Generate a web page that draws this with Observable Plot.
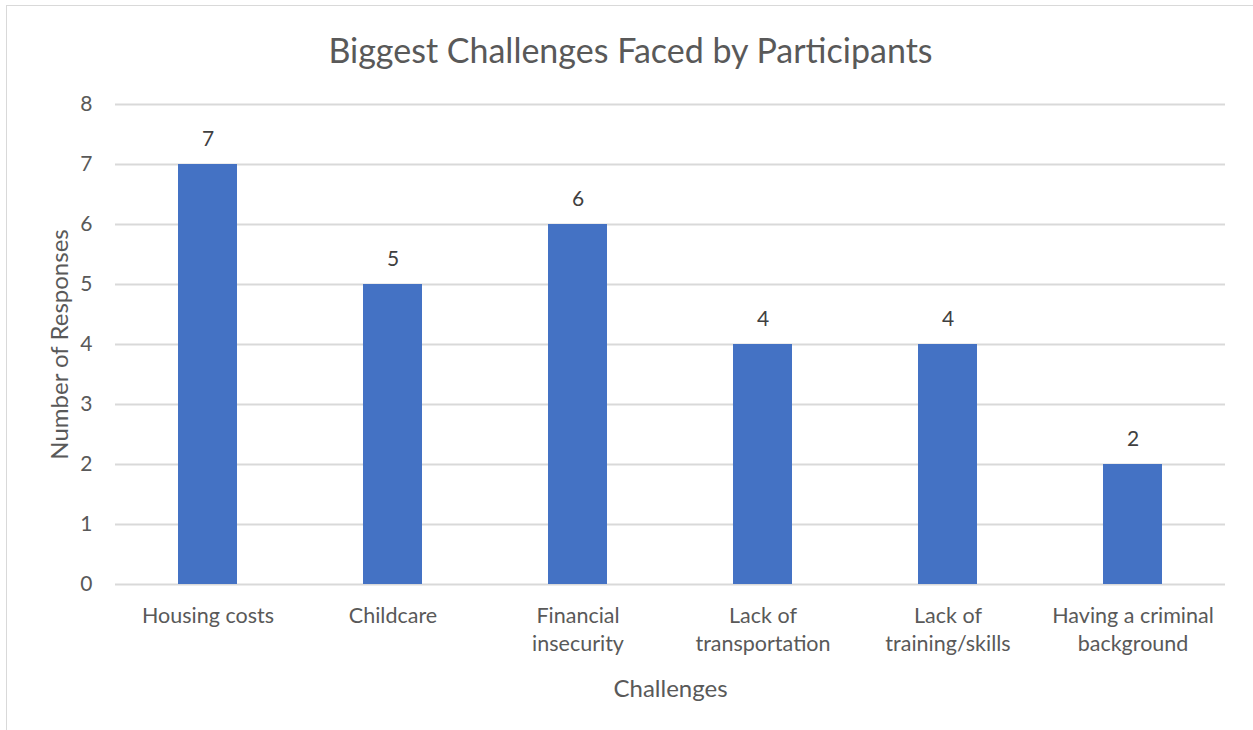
<!DOCTYPE html>
<html>
<head>
<meta charset="utf-8">
<script src="https://cdn.jsdelivr.net/npm/d3@7"></script>
<script src="https://cdn.jsdelivr.net/npm/@observablehq/plot@0.6"></script>
<style>
  html, body { margin: 0; padding: 0; background: #fff; }
  #wrap { position: relative; width: 1253px; height: 730px; overflow: hidden; font-family: Lato, "Open Sans", sans-serif; }
  #frame { position: absolute; left: 6px; top: 5px; width: 1260px; height: 760px; border: 1.5px solid #d9d9d9; box-sizing: border-box; }
  #title { position: absolute; left: 4px; width: 1253px; top: 29px; text-align: center; font-size: 34px; color: #595959; line-height: 42px; }
  #chart { position: absolute; left: 0; top: 0; }
</style>
</head>
<body>
<div id="wrap">
  <div id="frame"></div>
  <div id="chart"></div>
  <div id="title">Biggest Challenges Faced by Participants</div>
</div>
<script>
const categories = ["Housing costs", "Childcare", "Financial insecurity", "Lack of transportation", "Lack of training/skills", "Having a criminal background"];
const tickLabels = ["Housing costs", "Childcare", "Financial\ninsecurity", "Lack of\ntransportation", "Lack of\ntraining/skills", "Having a criminal\nbackground"];
const responses = [7, 5, 6, 4, 4, 2];
const yTicks = [0, 1, 2, 3, 4, 5, 6, 7, 8];

const data = categories.map((c, i) => ({category: c, label: tickLabels[i], value: responses[i]}));

const textColor = "#595959";
const chart = Plot.plot({
  width: 1253,
  height: 730,
  marginTop: 104,
  marginBottom: 146,
  marginLeft: 115,
  marginRight: 28,
  style: {fontFamily: "Lato, 'Open Sans', sans-serif", background: "transparent", overflow: "visible"},
  x: {domain: categories, paddingInner: 0.68, paddingOuter: 0.34, label: null, axis: null},
  y: {domain: [0, 8], label: null, axis: null},
  marks: [
    Plot.gridY(yTicks, {stroke: "#d9d9d9", strokeOpacity: 1, strokeWidth: 2}),
    Plot.barY(data, {x: "category", y: "value", fill: "#4472c4"}),
    Plot.axisY(yTicks, {tickSize: 0, tickPadding: 23, fontSize: 21, fill: textColor, label: null, tickFormat: d3.format("d")}),
    Plot.text(data, {x: "category", y: 0, text: "label", lineAnchor: "top", dy: 19, fontSize: 21.5, lineHeight: 1.3, fill: textColor}),
    Plot.text(data, {x: "category", y: "value", text: d => String(d.value), lineAnchor: "bottom", dy: -19, fontSize: 21, fill: "#404040"}),
    Plot.text(["Challenges"], {frameAnchor: "bottom", dy: 112, fontSize: 24, fill: textColor}),
    Plot.text(["Number of Responses"], {frameAnchor: "left", textAnchor: "middle", dx: -55, rotate: -90, fontSize: 24, fill: textColor})
  ]
});
document.getElementById("chart").appendChild(chart);
</script>
</body>
</html>
